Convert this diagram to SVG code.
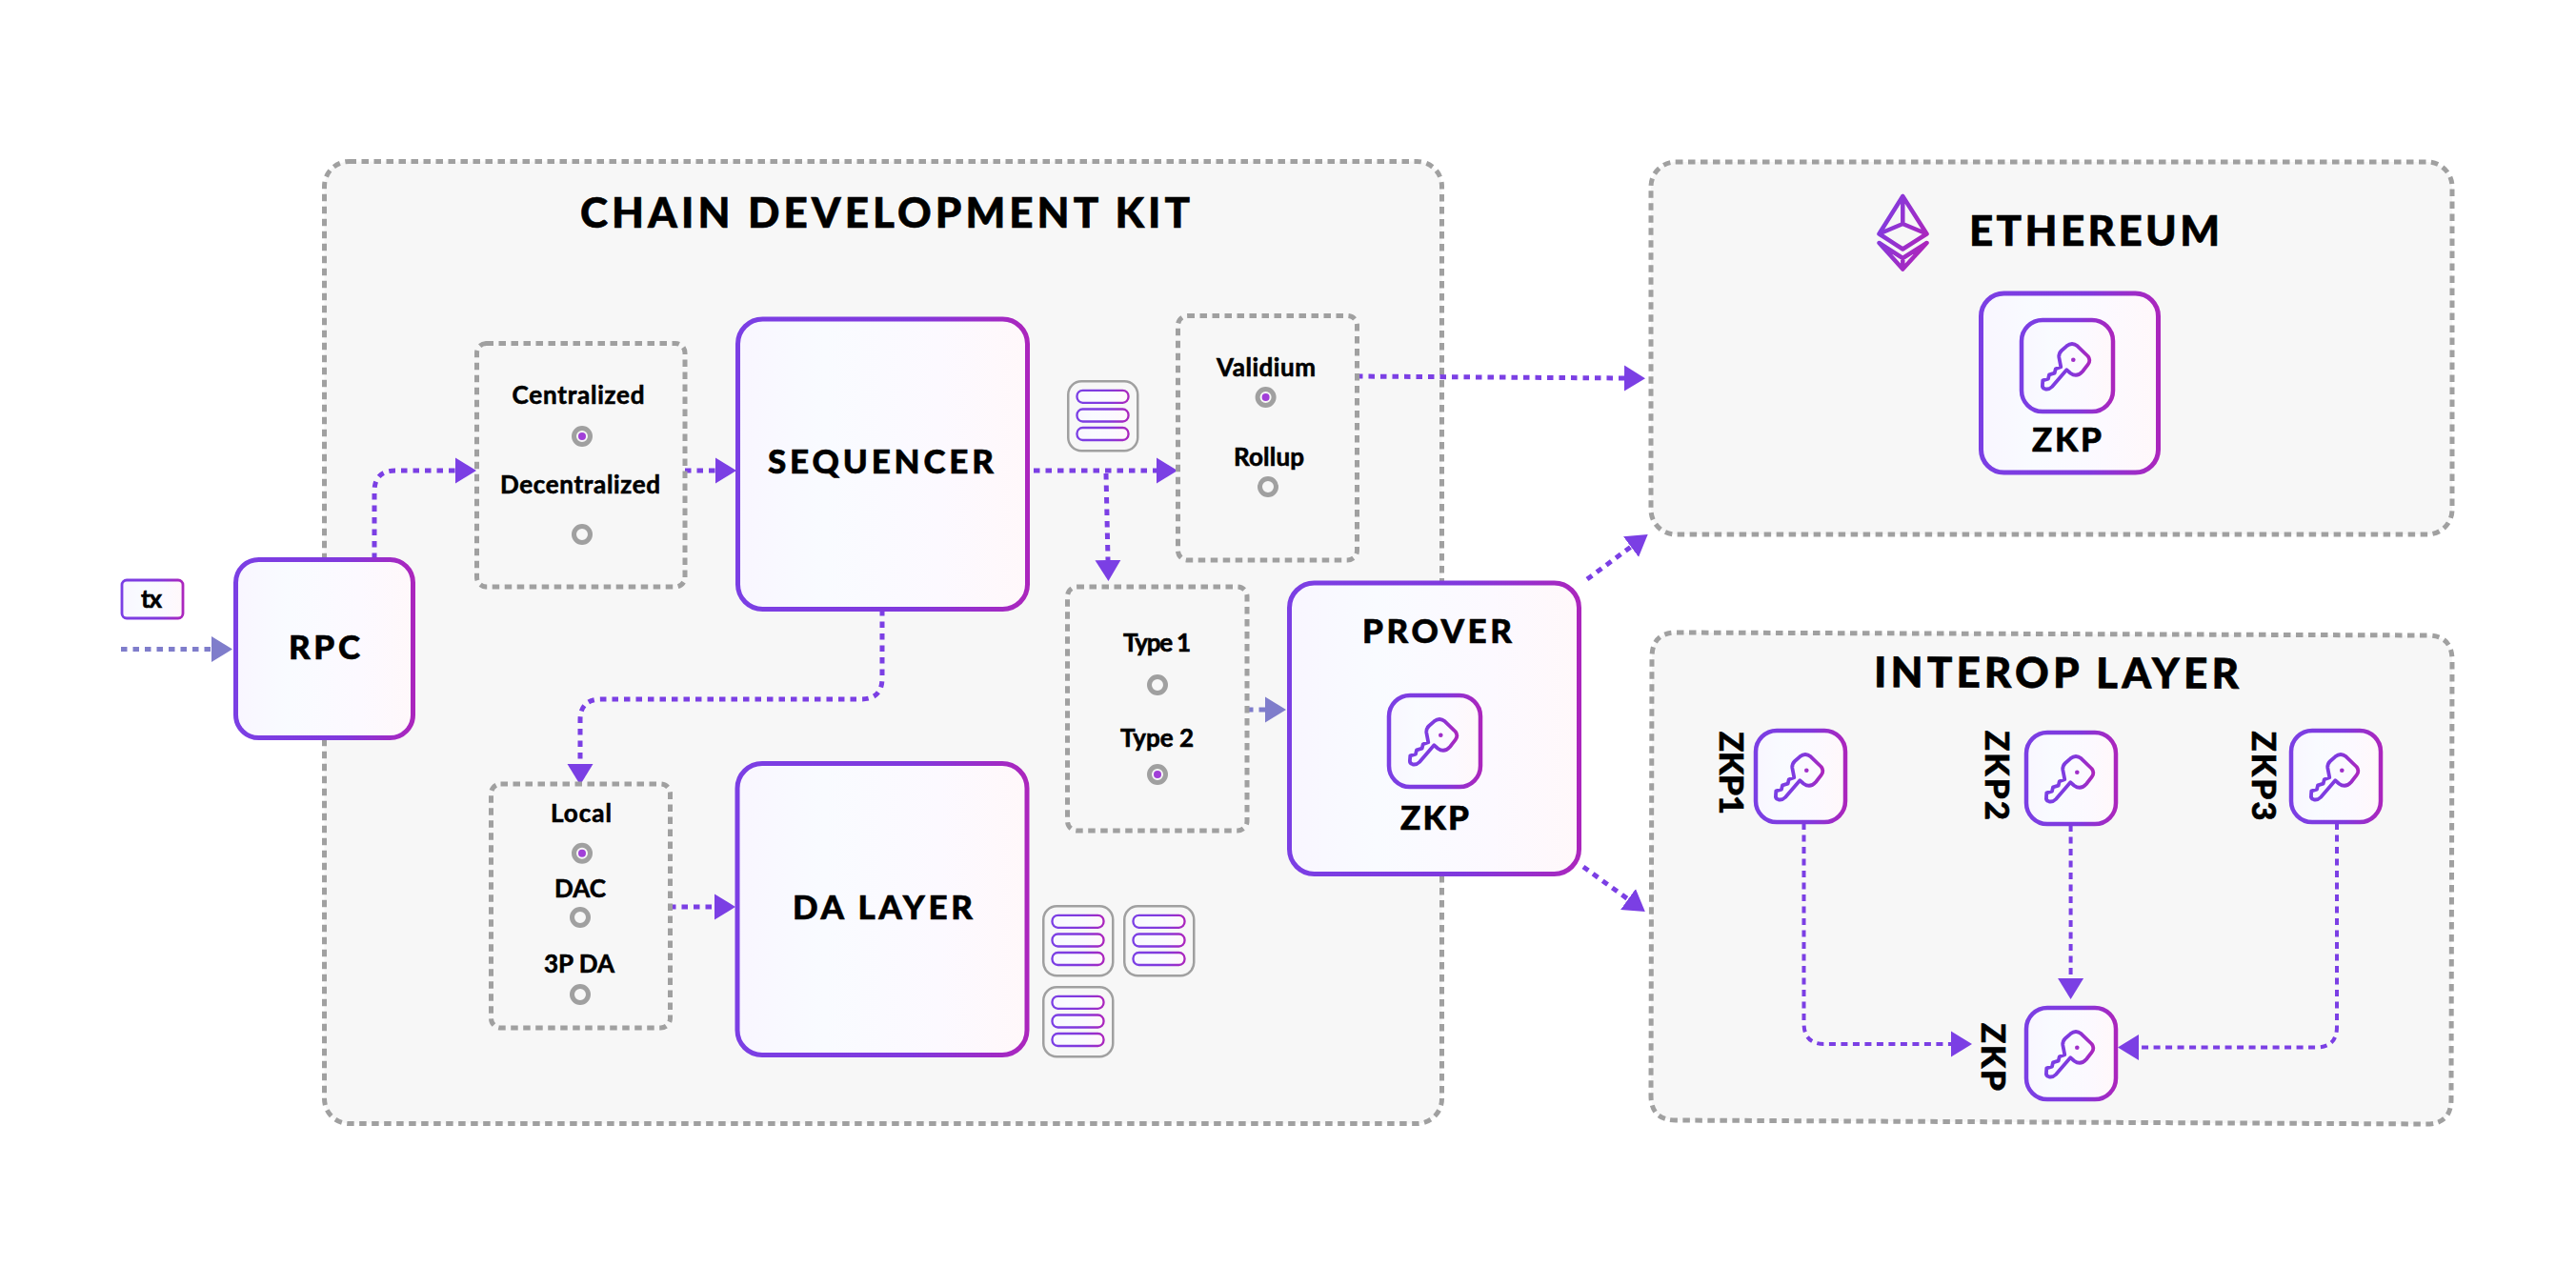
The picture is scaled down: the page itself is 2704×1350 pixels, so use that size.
<svg xmlns="http://www.w3.org/2000/svg" width="2704" height="1350" viewBox="0 0 2704 1350">
<style>
text{font-family:"Lato","Liberation Sans",sans-serif;fill:#000}
.h{font-weight:900;font-size:44px;stroke:#000;stroke-width:.6px}
.t{font-weight:900;font-size:35px;stroke:#000;stroke-width:.6px}
.s{font-weight:700;font-size:26px;stroke:#000;stroke-width:.6px}
.panel{fill:#f7f7f7;stroke:#a0a0a0;stroke-width:5;stroke-dasharray:7.5 5.5}
.opt{fill:#f7f7f7;stroke:#a0a0a0;stroke-width:5;stroke-dasharray:7.5 5.5}
.card{fill:url(#fillG);stroke:url(#strokeG);stroke-width:5}
.inner{fill:url(#fillG);stroke:url(#strokeG);stroke-width:4.5}
.ring{fill:#f7f7f7;stroke:#a0a0a0;stroke-width:5}
.dot{fill:#a13fd8}
.stack{fill:#f7f7f7;stroke:#a0a0a0;stroke-width:2.5}
.pill{fill:url(#fillG);stroke:url(#strokeG);stroke-width:2.3}
.key{fill:none;stroke:url(#strokeG);stroke-width:3.8;stroke-linejoin:round}
.eth{fill:none;stroke:url(#ethG);stroke-width:4.5;stroke-linejoin:round;stroke-linecap:round}
.c{fill:none;stroke:#7b3fe4;stroke-width:5;stroke-dasharray:6.5 6}
.c2{fill:none;stroke:#7f7dcb;stroke-width:5;stroke-dasharray:6.5 6}
.v{fill:none;stroke:#7b3fe4;stroke-width:4;stroke-dasharray:7 5.5}
</style>
<defs>
<linearGradient id="strokeG" x1="0" y1="0" x2="1" y2="0"><stop offset="0" stop-color="#7b3fe4"/><stop offset=".6" stop-color="#8039dd"/><stop offset="1" stop-color="#ab26bd"/></linearGradient>
<linearGradient id="ethG" x1="0" y1="0" x2="1" y2=".6"><stop offset="0" stop-color="#7b3fe4"/><stop offset="1" stop-color="#ab26bd"/></linearGradient>
<linearGradient id="fillG" x1="0" y1="0" x2="1" y2="0"><stop offset="0" stop-color="#f9f6ff"/><stop offset=".3" stop-color="#f9fbff"/><stop offset=".7" stop-color="#fcf9ff"/><stop offset="1" stop-color="#fff8fa"/></linearGradient>
<marker id="a" markerUnits="userSpaceOnUse" markerWidth="24" markerHeight="30" viewBox="0 -15 24 30" refX="0" refY="0" orient="auto"><path d="M0-13.5L22 0L0 13.5Z" fill="#7b3fe4"/></marker>
<marker id="b" markerUnits="userSpaceOnUse" markerWidth="24" markerHeight="30" viewBox="0 -15 24 30" refX="0" refY="0" orient="auto"><path d="M0-13.5L22 0L0 13.5Z" fill="#7f7dcb"/></marker>
<path id="k" class="key" d="M-.7-20.7Q5-25.3 10.7-20.7L21.7-10Q25-5.7 21.7-1.3L16 6Q10 12.7 3.3 7.7L-.7 4.3L-16 22Q-19.3 25.3-23.3 24.3Q-26.7 23.3-26 19.3L-25.7 15.3L-20 13.7L-19 9.3L-13.3 7.7L-12.3 3.3L-6.7 1.3L-8.7-9Q-9-13.3-6-16Z"/>
<g id="keyIcon"><use href="#k"/><circle cx="6.3" cy="-6.3" r="2.3" fill="#a02fc8"/></g>
<g id="stackIcon"><rect class="stack" x="1.25" y="1.25" width="73" height="73" rx="14"/><rect class="pill" x="10.5" y="10.8" width="54" height="13" rx="6"/><rect class="pill" x="10.5" y="30.5" width="54" height="13" rx="6"/><rect class="pill" x="10.5" y="50" width="54" height="13" rx="6"/></g>
</defs>

<g id="chain-development-kit">
<rect class="panel" x="340.5" y="169.5" width="1173" height="1010" rx="26"/>
<text class="h" x="609" y="239" textLength="640">CHAIN DEVELOPMENT KIT</text>
</g>
<g id="ethereum">
<rect class="panel" x="1733" y="170" width="841" height="391" rx="26"/>
<path class="eth" d="M1997.3 206L1972.5 245.5L1997.3 261.5L2022.5 245.5ZM1997.3 206V235M1972.5 245.5L1997.3 235L2022.5 245.5M1972.5 255L1997.3 282.5L2022.5 255L1997.3 271ZM1997.3 271V282.5"/>
<text class="h" x="2067" y="258" textLength="263">ETHEREUM</text>
</g>
<g id="interop-layer">
<path class="panel" d="M1760 664L2548 667Q2574 667 2574 693L2573 1154Q2573 1180 2547 1180L1759 1176Q1733 1176 1733 1150L1734 690Q1734 664 1760 664Z"/>
<text class="h" x="1967" y="722" textLength="383" transform="rotate(.25 2158 722)">INTEROP LAYER</text>
</g>

<g id="connectors">
<path class="c2" d="M127 681.5H222" marker-end="url(#b)"/>
<path class="c" d="M393 587V516Q393 494 415 494H478" marker-end="url(#a)"/>
<path class="c" d="M719 494H751" marker-end="url(#a)"/>
<path class="c" d="M926 640V712Q926 734 904 734H631Q609 734 609 756V802" marker-end="url(#a)"/>
<path class="c" d="M703 952H750" marker-end="url(#a)"/>
<path class="c" d="M1085 494H1214" marker-end="url(#a)"/>
<path class="c" d="M1161 497L1163 588" marker-end="url(#a)"/>
<path class="c" d="M1424 395L1705 397" marker-end="url(#a)"/>
<path class="c2" d="M1309 745H1328" marker-end="url(#b)"/>
<path class="c" d="M1666 608L1712 574" marker-end="url(#a)"/>
<path class="c" d="M1662 910L1709 944" marker-end="url(#a)"/>
<path class="v" d="M1893.5 864V1074Q1893.5 1096 1915 1096H2048" marker-end="url(#a)"/>
<path class="v" d="M2173.6 866V1027" marker-end="url(#a)"/>
<path class="v" d="M2453 864V1078Q2453 1099.5 2431 1099.5H2245" marker-end="url(#a)"/>
</g>

<g id="tx">
<rect x="128" y="609" width="64" height="40" rx="5" fill="url(#fillG)" stroke="url(#strokeG)" stroke-width="2.8"/>
<text class="s" x="148" y="638" textLength="22">tx</text>
</g>
<g id="rpc">
<rect class="card" x="247.5" y="587.5" width="186" height="187" rx="24"/>
<text class="t" x="303" y="692" textLength="75">RPC</text>
</g>
<g id="sequencer-options">
<rect class="opt" x="500.5" y="360.5" width="218.5" height="255.5" rx="10"/>
<text class="s" x="537.5" y="424" textLength="139">Centralized</text>
<circle class="ring" cx="611" cy="458" r="8.5"/><circle class="dot" cx="611" cy="458" r="4"/>
<text class="s" x="525" y="518" textLength="168">Decentralized</text>
<circle class="ring" cx="611" cy="561" r="8.5"/>
</g>
<g id="sequencer">
<rect class="card" x="774.5" y="335" width="304" height="304.5" rx="26"/>
<text class="t" x="806" y="497" textLength="237">SEQUENCER</text>
</g>
<g id="batch-top"><use href="#stackIcon" x="1120" y="399"/></g>
<g id="proof-options">
<rect class="opt" x="1236.5" y="331.5" width="188" height="256.5" rx="10"/>
<text class="s" x="1277" y="395" textLength="104">Validium</text>
<circle class="ring" cx="1328.6" cy="417" r="8.5"/><circle class="dot" cx="1328.6" cy="417" r="4"/>
<text class="s" x="1295" y="489" textLength="74">Rollup</text>
<circle class="ring" cx="1331" cy="511" r="8.5"/>
</g>
<g id="type-options">
<rect class="opt" x="1120.5" y="616" width="188.5" height="256" rx="10"/>
<text class="s" x="1179" y="683.5" textLength="71">Type 1</text>
<circle class="ring" cx="1215" cy="719" r="8.5"/>
<text class="s" x="1176" y="784" textLength="77">Type 2</text>
<circle class="ring" cx="1215" cy="813" r="8.5"/><circle class="dot" cx="1215" cy="813" r="4"/>
</g>
<g id="prover">
<rect class="card" x="1353.5" y="612" width="304" height="305.5" rx="26"/>
<text class="t" x="1430" y="675" textLength="157">PROVER</text>
<rect class="inner" x="1458" y="730" width="96" height="96" rx="22"/>
<use href="#keyIcon" x="1506" y="778"/>
<text class="t" x="1470" y="871" textLength="72">ZKP</text>
</g>
<g id="da-options">
<rect class="opt" x="515.5" y="823" width="188" height="256" rx="10"/>
<text class="s" x="578" y="862.7" textLength="64">Local</text>
<circle class="ring" cx="611" cy="895.7" r="8.5"/><circle class="dot" cx="611" cy="895.7" r="4"/>
<text class="s" x="582" y="941.7" textLength="54">DAC</text>
<circle class="ring" cx="609" cy="963" r="8.5"/>
<text class="s" x="571" y="1020.7" textLength="74">3P DA</text>
<circle class="ring" cx="609" cy="1044" r="8.5"/>
</g>
<g id="da-layer">
<rect class="card" x="774" y="801.5" width="304" height="306" rx="26"/>
<text class="t" x="832" y="965.3" textLength="189">DA LAYER</text>
</g>
<g id="batch-a"><use href="#stackIcon" x="1094" y="950"/></g>
<g id="batch-b"><use href="#stackIcon" x="1179" y="950"/></g>
<g id="batch-c"><use href="#stackIcon" x="1094" y="1035"/></g>
<g id="ethereum-zkp">
<rect class="card" x="2079.5" y="308" width="186" height="188" rx="24"/>
<rect class="inner" x="2122" y="336" width="96" height="96" rx="22"/>
<use href="#keyIcon" x="2170" y="384"/>
<text class="t" x="2133" y="474" textLength="73">ZKP</text>
</g>
<g id="zkp1">
<rect class="inner" x="1843" y="767" width="94" height="96" rx="22"/>
<use href="#keyIcon" x="1890" y="815"/>
<text class="t" transform="translate(1804.5 768) rotate(90)" textLength="87">ZKP1</text>
</g>
<g id="zkp2">
<rect class="inner" x="2127" y="769" width="94" height="96" rx="22"/>
<use href="#keyIcon" x="2174" y="817"/>
<text class="t" transform="translate(2083.5 767) rotate(90)" textLength="94">ZKP2</text>
</g>
<g id="zkp3">
<rect class="inner" x="2405" y="767" width="94" height="96" rx="22"/>
<use href="#keyIcon" x="2452" y="815"/>
<text class="t" transform="translate(2363.6 767.5) rotate(90)" textLength="94">ZKP3</text>
</g>
<g id="zkp">
<rect class="inner" x="2127" y="1058" width="94" height="96" rx="22"/>
<use href="#keyIcon" x="2174" y="1106"/>
<text class="t" transform="translate(2080 1074) rotate(90)" textLength="71">ZKP</text>
</g>
</svg>
